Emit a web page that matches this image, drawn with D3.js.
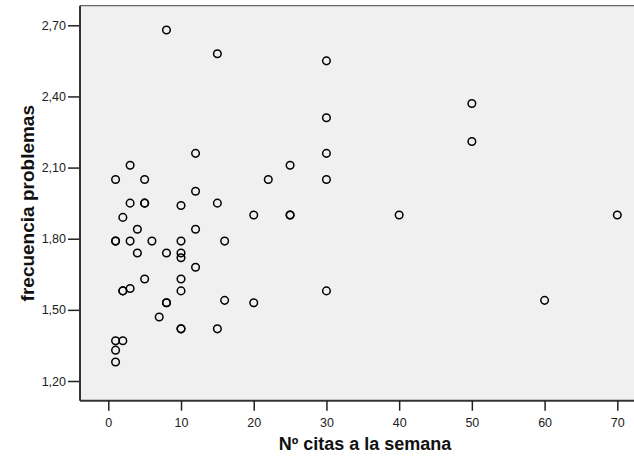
<!DOCTYPE html>
<html>
<head>
<meta charset="utf-8">
<script src="https://cdn.jsdelivr.net/npm/d3@7/dist/d3.min.js"></script>
<style>
  html, body { margin: 0; padding: 0; background: #ffffff; }
  svg { display: block; }
  text { font-family: Arial, "Liberation Sans", sans-serif; }
</style>
</head>
<body>
<div id="chart"></div>
<script>
// Data
const citas = [8, 15, 30, 50, 30, 50, 12, 30, 3, 25, 1, 5, 22, 30, 12, 3, 5, 5, 10, 15,
  2, 20, 25, 25, 40, 70, 4, 12, 1, 1, 3, 6, 10, 16, 4, 8, 10, 10, 12, 5,
  10, 2, 2, 3, 10, 30, 8, 8, 16, 20, 60, 7, 10, 10, 15, 1, 2, 1, 1];
const frecuencia = [2.68, 2.58, 2.55, 2.37, 2.31, 2.21, 2.16, 2.16, 2.11, 2.11, 2.05, 2.05, 2.05, 2.05, 2.00, 1.95, 1.95, 1.95, 1.94, 1.95,
  1.89, 1.90, 1.90, 1.90, 1.90, 1.90, 1.84, 1.84, 1.79, 1.79, 1.79, 1.79, 1.79, 1.79, 1.74, 1.74, 1.74, 1.72, 1.68, 1.63,
  1.63, 1.58, 1.58, 1.59, 1.58, 1.58, 1.53, 1.53, 1.54, 1.53, 1.54, 1.47, 1.42, 1.42, 1.42, 1.37, 1.37, 1.33, 1.28];
const xTicks = [0, 10, 20, 30, 40, 50, 60, 70];
const yTicks = [1.20, 1.50, 1.80, 2.10, 2.40, 2.70];
const xTitle = "Nº citas a la semana";
const yTitle = "frecuencia problemas";

const W = 634, H = 461;
const plotLeft = 80, plotTop = 5.7, plotBottom = 400.7, plotRight = 650;

const x = d3.scaleLinear().domain([0, 70]).range([108.3, 617.3]);
const y = d3.scaleLinear().domain([1.2, 2.7]).range([381, 25.3]);

const svg = d3.select("#chart").append("svg").attr("width", W).attr("height", H);

svg.append("rect")
  .attr("x", plotLeft).attr("y", plotTop)
  .attr("width", plotRight - plotLeft).attr("height", plotBottom - plotTop)
  .attr("fill", "#f0f0f0");

// frame
svg.append("line").attr("x1", plotLeft).attr("x2", plotRight).attr("y1", plotTop).attr("y2", plotTop)
  .attr("stroke", "#666").attr("stroke-width", 1.2);
svg.append("line").attr("x1", plotLeft).attr("x2", plotLeft).attr("y1", plotTop).attr("y2", plotBottom)
  .attr("stroke", "#333").attr("stroke-width", 2);
svg.append("line").attr("x1", plotLeft).attr("x2", plotRight).attr("y1", plotBottom).attr("y2", plotBottom)
  .attr("stroke", "#333").attr("stroke-width", 2);

const fmt = d => d3.format(".2f")(d).replace(".", ",");

const xAxis = svg.append("g").attr("transform", `translate(0,${plotBottom})`)
  .call(d3.axisBottom(x).tickValues(xTicks).tickSize(10).tickSizeOuter(0).tickPadding(7));
const yAxis = svg.append("g").attr("transform", `translate(${plotLeft - 1},0)`)
  .call(d3.axisLeft(y).tickValues(yTicks).tickFormat(fmt).tickSize(11).tickSizeOuter(0).tickPadding(2));

[xAxis, yAxis].forEach(g => {
  g.select(".domain").remove();
  g.selectAll(".tick line").attr("stroke", "#222").attr("stroke-width", 1.5);
  g.selectAll(".tick text").attr("fill", "#222").style("font-size", "12.5px")
    .style("font-family", "Arial, 'Liberation Sans', sans-serif");
});

svg.append("g").selectAll("circle")
  .data(citas.map((c, i) => [c, frecuencia[i]]))
  .join("circle")
  .attr("cx", d => x(d[0])).attr("cy", d => y(d[1]))
  .attr("r", 3.8)
  .attr("fill", "none").attr("stroke", "#000").attr("stroke-width", 1.5);

svg.append("text")
  .attr("x", (plotLeft + plotRight) / 2).attr("y", 450)
  .attr("text-anchor", "middle")
  .style("font-size", "18px").style("font-weight", "bold").attr("fill", "#111")
  .text(xTitle);

svg.append("text")
  .attr("transform", `translate(34,${(plotTop + plotBottom) / 2}) rotate(-90)`)
  .attr("text-anchor", "middle")
  .style("font-size", "19px").style("font-weight", "bold").attr("fill", "#111")
  .text(yTitle);
</script>
</body>
</html>
